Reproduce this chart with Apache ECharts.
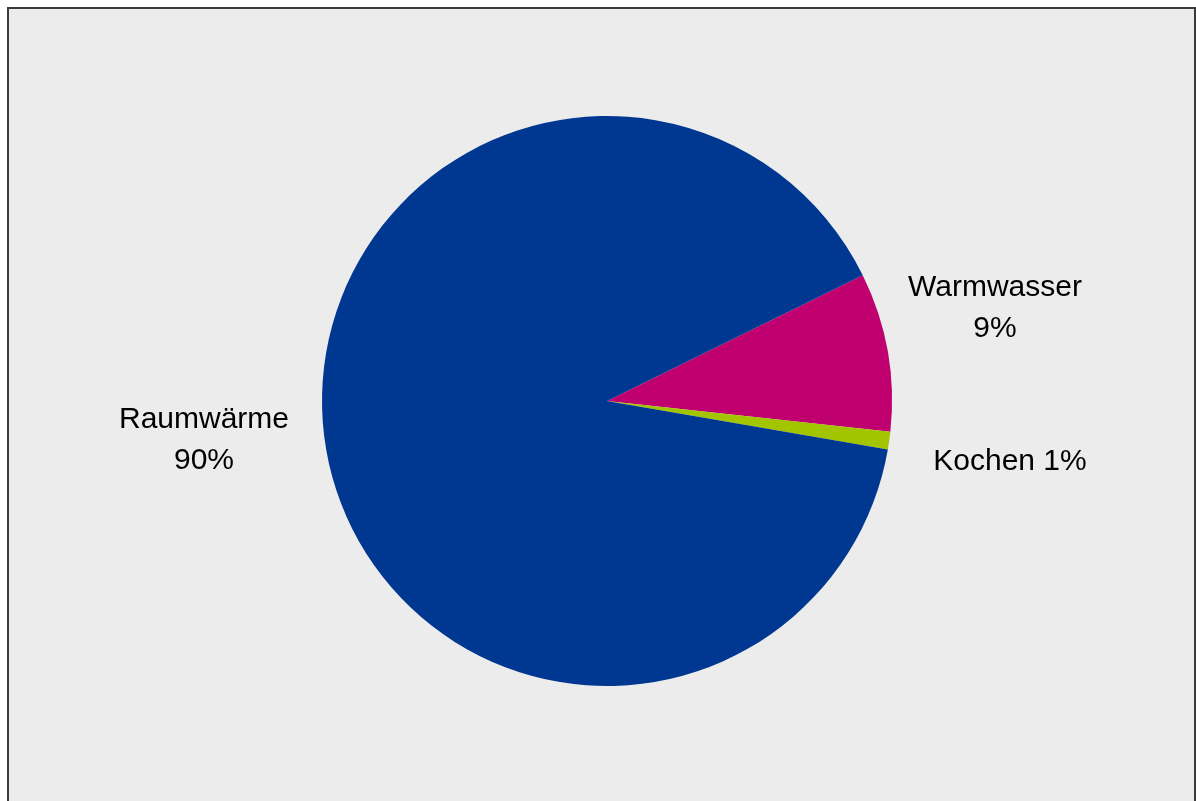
<!DOCTYPE html>
<html>
<head>
<meta charset="utf-8">
<script src="https://cdn.jsdelivr.net/npm/echarts@6/dist/echarts.min.js"></script>
<style>
  html, body { margin: 0; padding: 0; background: #ffffff; }
  #chart { width: 1196px; height: 801px; }
</style>
</head>
<body>
<div id="chart"></div>
<script>
// Energieverbrauch nach Anwendung (Anteile in %)
const categories = ['Warmwasser', 'Kochen', 'Raumwärme'];
const shares = [9, 1, 90];
const sliceColors = ['#C0006F', '#A3C500', '#003891'];

// label anchor points (px) for each slice label
const labelAnchors = [
  { x: 995, y: 308 },
  { x: 1010, y: 462 },
  { x: 204, y: 440 }
];

const chart = echarts.init(document.getElementById('chart'), null, { renderer: 'canvas' });

chart.setOption({
  backgroundColor: '#ffffff',
  animation: false,
  graphic: [{
    type: 'rect',
    z: -10,
    shape: { x: 8, y: 8, width: 1187, height: 800 },
    style: { fill: '#ECECEC', stroke: '#3A3A3A', lineWidth: 2 }
  }],
  series: [{
    type: 'pie',
    center: [607, 401],
    radius: 285,
    startAngle: 26.2,
    clockwise: true,
    avoidLabelOverlap: false,
    itemStyle: { borderWidth: 0 },
    emphasis: { disabled: true },
    labelLine: { show: false },
    label: {
      show: true,
      position: 'outside',
      color: '#000000',
      fontFamily: 'Liberation Sans, Arial, sans-serif',
      fontSize: 30,
      lineHeight: 41,
      align: 'center',
      formatter: function (p) {
        return p.name === 'Kochen' ? p.name + ' ' + p.value + '%' : p.name + '\n' + p.value + '%';
      }
    },
    labelLayout: function (params) {
      const a = labelAnchors[params.dataIndex];
      return { x: a.x, y: a.y, align: 'center', verticalAlign: 'middle' };
    },
    data: categories.map(function (name, i) {
      return { name: name, value: shares[i], itemStyle: { color: sliceColors[i] } };
    })
  }]
});
</script>
</body>
</html>
